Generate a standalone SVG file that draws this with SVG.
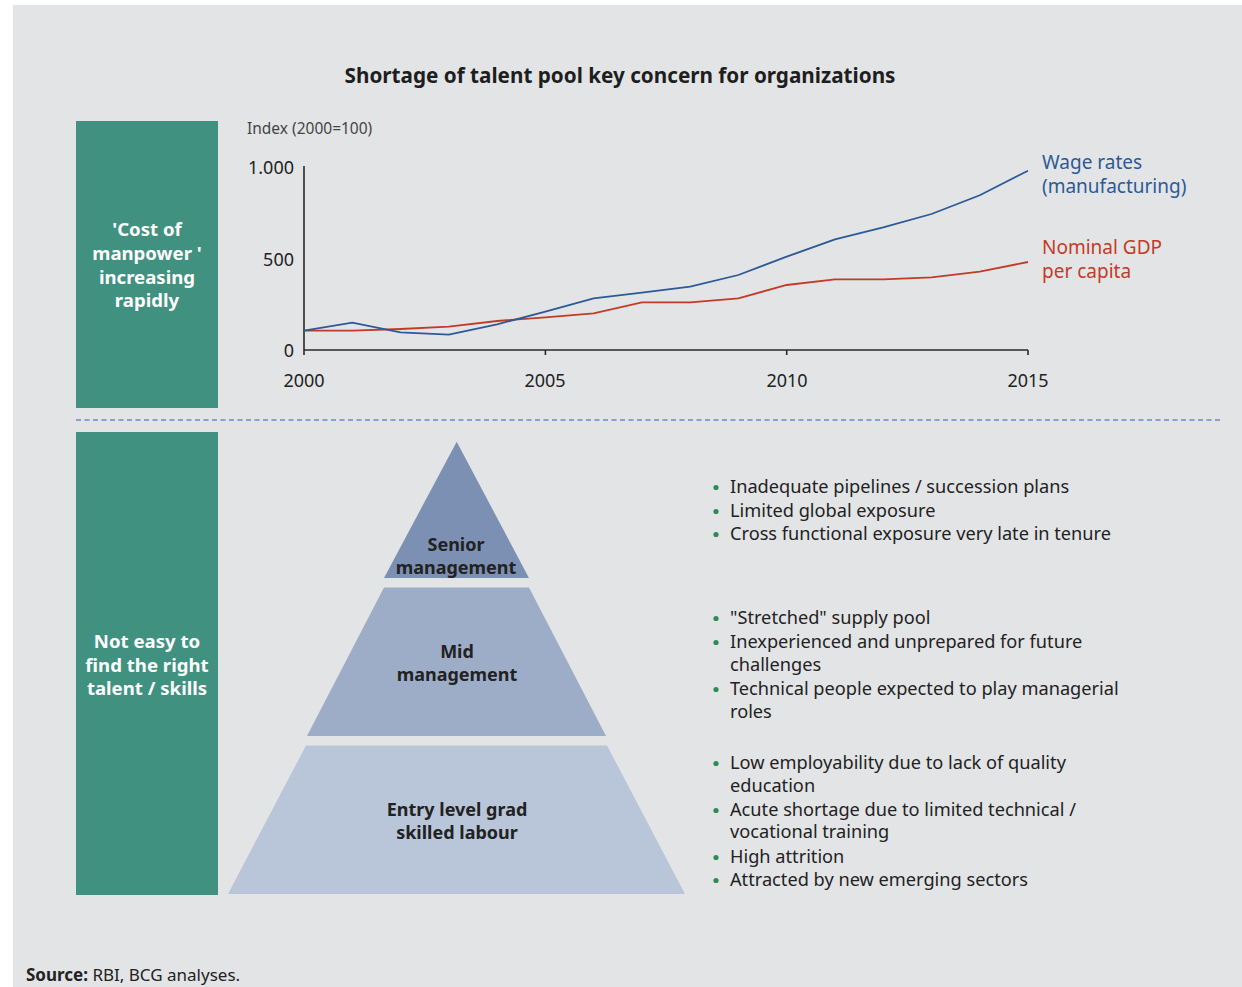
<svg xmlns="http://www.w3.org/2000/svg" width="1242" height="987" viewBox="0 0 1242 987">
<style>
text{font-family:"Noto Sans","Open Sans","Liberation Sans",sans-serif;}
.title{font-size:20.7px;font-weight:bold;fill:#1e1e1e;}
.ax{font-size:18px;fill:#222;}
.idx{font-size:15.5px;fill:#444;}
.box{fill:#419180;}
.boxt{font-size:18.6px;font-weight:bold;fill:#fff;text-anchor:middle;}
.pyt{font-size:18px;font-weight:bold;fill:#222;text-anchor:middle;}
.bul{font-size:18.2px;fill:#222;}
.dot{fill:#2e8b57;}
.axis{stroke:#2a2a2a;stroke-width:1.6;fill:none;}
</style>
<rect x="0" y="0" width="1242" height="987" fill="#ffffff"/>
<rect x="13" y="5" width="1229" height="982" fill="#e3e4e6"/>
<text class="title" x="620" y="83" text-anchor="middle">Shortage of talent pool key concern for organizations</text>

<g id="box-cost">
<rect class="box" x="76" y="121" width="142" height="287"/>
<text class="boxt" x="147" y="236">'Cost of</text>
<text class="boxt" x="147" y="260">manpower '</text>
<text class="boxt" x="147" y="283.5">increasing</text>
<text class="boxt" x="147" y="307">rapidly</text>
</g>

<g id="chart">
<text class="idx" x="247" y="134">Index (2000=100)</text>
<path class="axis" d="M304,166 V350 H1028 M304,350 V355 M545.4,350 V355 M786.7,350 V355 M1028,350 V355"/>
<text class="ax" x="294" y="174" text-anchor="end">1.000</text>
<text class="ax" x="294" y="266" text-anchor="end">500</text>
<text class="ax" x="294" y="357" text-anchor="end">0</text>
<text class="ax" x="304" y="387" text-anchor="middle">2000</text>
<text class="ax" x="545" y="387" text-anchor="middle">2005</text>
<text class="ax" x="787" y="387" text-anchor="middle">2010</text>
<text class="ax" x="1028" y="387" text-anchor="middle">2015</text>
<polyline fill="none" stroke="#c23b27" stroke-width="1.8" points="304,330.7 352.3,330.7 400.5,329 448.8,326.7 497.1,321 545.4,317.3 593.6,313.3 641.9,302.3 690.2,302.3 738.4,298.3 786.7,285 835,279.3 883.2,279.3 931.5,277.3 979.8,271.7 1028,262"/>
<polyline fill="none" stroke="#2b5a96" stroke-width="1.8" points="304,330.7 352.3,322.7 400.5,332.3 448.8,334.7 497.1,324.3 545.4,311.7 593.6,298.3 641.9,292.7 690.2,286.7 738.4,275 786.7,256.7 835,239.3 883.2,227.3 931.5,214 979.8,195.3 1028,170.7"/>
<text x="1042" y="169" font-size="19" fill="#2b5a96">Wage rates</text>
<text x="1042" y="193" font-size="19" fill="#2b5a96">(manufacturing)</text>
<text x="1042" y="254" font-size="19" fill="#c23b27">Nominal GDP</text>
<text x="1042" y="278" font-size="19" fill="#c23b27">per capita</text>
</g>

<line x1="76" y1="420" x2="1222" y2="420" stroke="#6d8dbb" stroke-width="1.3" stroke-dasharray="5,3.5"/>

<g id="box-talent">
<rect class="box" x="76" y="432" width="142" height="463"/>
<text class="boxt" x="147" y="648">Not easy to</text>
<text class="boxt" x="147" y="671.5">find the right</text>
<text class="boxt" x="147" y="695">talent / skills</text>
</g>

<g id="senior">
<polygon points="456.7,441.7 529,578 384,578" fill="#7b90b2"/>
<text class="pyt" x="456" y="551">Senior</text>
<text class="pyt" x="456" y="574">management</text>
</g>
<g id="mid">
<polygon points="384,587.5 529,587.5 606,736 307,736" fill="#9dadc8"/>
<text class="pyt" x="457" y="658">Mid</text>
<text class="pyt" x="457" y="681">management</text>
</g>
<g id="entry">
<polygon points="306,745.5 607,745.5 685,894 228,894" fill="#b9c5d8"/>
<text class="pyt" x="457" y="816">Entry level grad</text>
<text class="pyt" x="457" y="839">skilled labour</text>
</g>

<g id="bullets-senior">
<circle class="dot" cx="716" cy="487.5" r="2.6"/><text class="bul" x="730" y="493">Inadequate pipelines / succession plans</text>
<circle class="dot" cx="716" cy="511.5" r="2.6"/><text class="bul" x="730" y="517">Limited global exposure</text>
<circle class="dot" cx="716" cy="534.5" r="2.6"/><text class="bul" x="730" y="540">Cross functional exposure very late in tenure</text>
</g>
<g id="bullets-mid">
<circle class="dot" cx="716" cy="618.5" r="2.6"/><text class="bul" x="730" y="624">"Stretched" supply pool</text>
<circle class="dot" cx="716" cy="642.5" r="2.6"/><text class="bul" x="730" y="648">Inexperienced and unprepared for future</text>
<text class="bul" x="730" y="671">challenges</text>
<circle class="dot" cx="716" cy="689.5" r="2.6"/><text class="bul" x="730" y="695">Technical people expected to play managerial</text>
<text class="bul" x="730" y="718">roles</text>
</g>
<g id="bullets-entry">
<circle class="dot" cx="716" cy="763.5" r="2.6"/><text class="bul" x="730" y="769">Low employability due to lack of quality</text>
<text class="bul" x="730" y="792">education</text>
<circle class="dot" cx="716" cy="810.5" r="2.6"/><text class="bul" x="730" y="816">Acute shortage due to limited technical /</text>
<text class="bul" x="730" y="838">vocational training</text>
<circle class="dot" cx="716" cy="857.5" r="2.6"/><text class="bul" x="730" y="863">High attrition</text>
<circle class="dot" cx="716" cy="880.5" r="2.6"/><text class="bul" x="730" y="886">Attracted by new emerging sectors</text>
</g>

<text x="26" y="981" font-size="17" fill="#222"><tspan font-weight="bold">Source:</tspan> RBI, BCG analyses.</text>
</svg>
